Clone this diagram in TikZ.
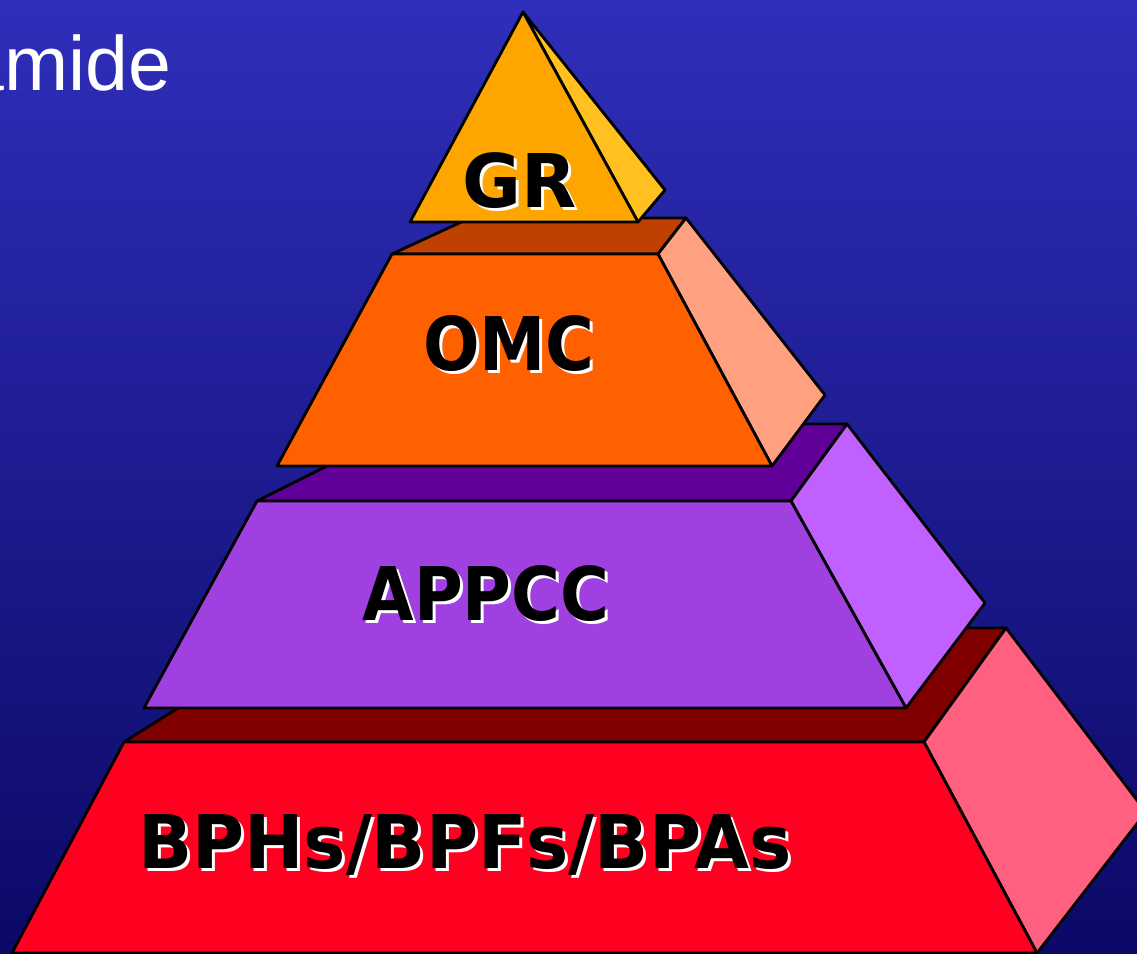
\documentclass[tikz,border=0pt]{standalone}
\usepackage{fontspec}
\setmainfont{Liberation Sans}
\newfontfamily\lblfont{DejaVu Sans}
\definecolor{bgtop}{RGB}{47,46,186}
\definecolor{bgbot}{RGB}{11,9,102}
\definecolor{grfront}{RGB}{255,165,0}
\definecolor{grside}{RGB}{255,192,32}
\definecolor{omcfront}{RGB}{255,96,0}
\definecolor{omcside}{RGB}{255,160,128}
\definecolor{omctop}{RGB}{192,64,0}
\definecolor{appfront}{RGB}{160,64,224}
\definecolor{appside}{RGB}{192,96,255}
\definecolor{apptop}{RGB}{96,0,153}
\definecolor{bphfront}{RGB}{255,0,32}
\definecolor{bphside}{RGB}{255,96,128}
\definecolor{bphtop}{RGB}{128,0,0}
\begin{document}
\begin{tikzpicture}[x=1pt,y=-1pt,line width=2.8pt,line join=round,
	lbl/.style={inner sep=0pt,anchor=base,font=\lblfont\bfseries\fontsize{74}{80}\selectfont},
	shadow/.style={lbl,text=white,xshift=3pt,yshift=-3pt}]
	\useasboundingbox (0,0) rectangle (1137,953);
	\clip (0,0) rectangle (1137,953);
	\shade[top color=bgtop,bottom color=bgbot] (0,0) rectangle (1137,953);
	\node[anchor=base east,inner sep=0pt,text=white,font=\fontsize{77}{90}\selectfont] (title) at (173,90) {Pirâmide};
	% BPHs layer
	\filldraw[fill=bphtop] (124,742) -- (305,628) -- (1006,628) -- (924,742) -- cycle;
	\filldraw[fill=bphside] (924,742) -- (1006,628) -- (1146,812) -- (1037,953) -- cycle;
	\filldraw[fill=bphfront] (124,742) -- (924,742) -- (1037,953) -- (12,953) -- cycle;
	% APPCC layer
	\filldraw[fill=apptop] (257,501) -- (411,424) -- (847,424) -- (791,501) -- cycle;
	\filldraw[fill=appside] (791,501) -- (847,424) -- (985,603) -- (906,708) -- cycle;
	\filldraw[fill=appfront] (257,501) -- (791,501) -- (906,708) -- (144,708) -- cycle;
	% OMC layer
	\filldraw[fill=omctop] (392,254) -- (470,218) -- (686,218) -- (658,254) -- cycle;
	\filldraw[fill=omcside] (658,254) -- (686,218) -- (825,395) -- (772,466) -- cycle;
	\filldraw[fill=omcfront] (392,254) -- (658,254) -- (772,466) -- (277,466) -- cycle;
	% GR top
	\filldraw[fill=grside] (523,12) -- (665,190) -- (638,222) -- cycle;
	\filldraw[fill=grfront] (523,12) -- (638,222) -- (410,222) -- cycle;
	% labels
	\node[shadow] (grs) at (520,207) {\scalebox{0.97}[1]{GR}};
	\node[lbl] (gr) at (520,207) {\scalebox{0.97}[1]{GR}};
	\node[shadow] (omcs) at (509,370) {\scalebox{0.9}[1]{OMC}};
	\node[lbl] (omc) at (509,370) {\scalebox{0.9}[1]{OMC}};
	\node[shadow] (apps) at (486,620) {\scalebox{0.9}[1]{APPCC}};
	\node[lbl] (app) at (486,620) {\scalebox{0.9}[1]{APPCC}};
	\node[shadow] (bphs) at (465,868) {\scalebox{0.96}[1]{BPHs/BPFs/BPAs}};
	\node[lbl] (bph) at (465,868) {\scalebox{0.96}[1]{BPHs/BPFs/BPAs}};
\end{tikzpicture}
\end{document}
